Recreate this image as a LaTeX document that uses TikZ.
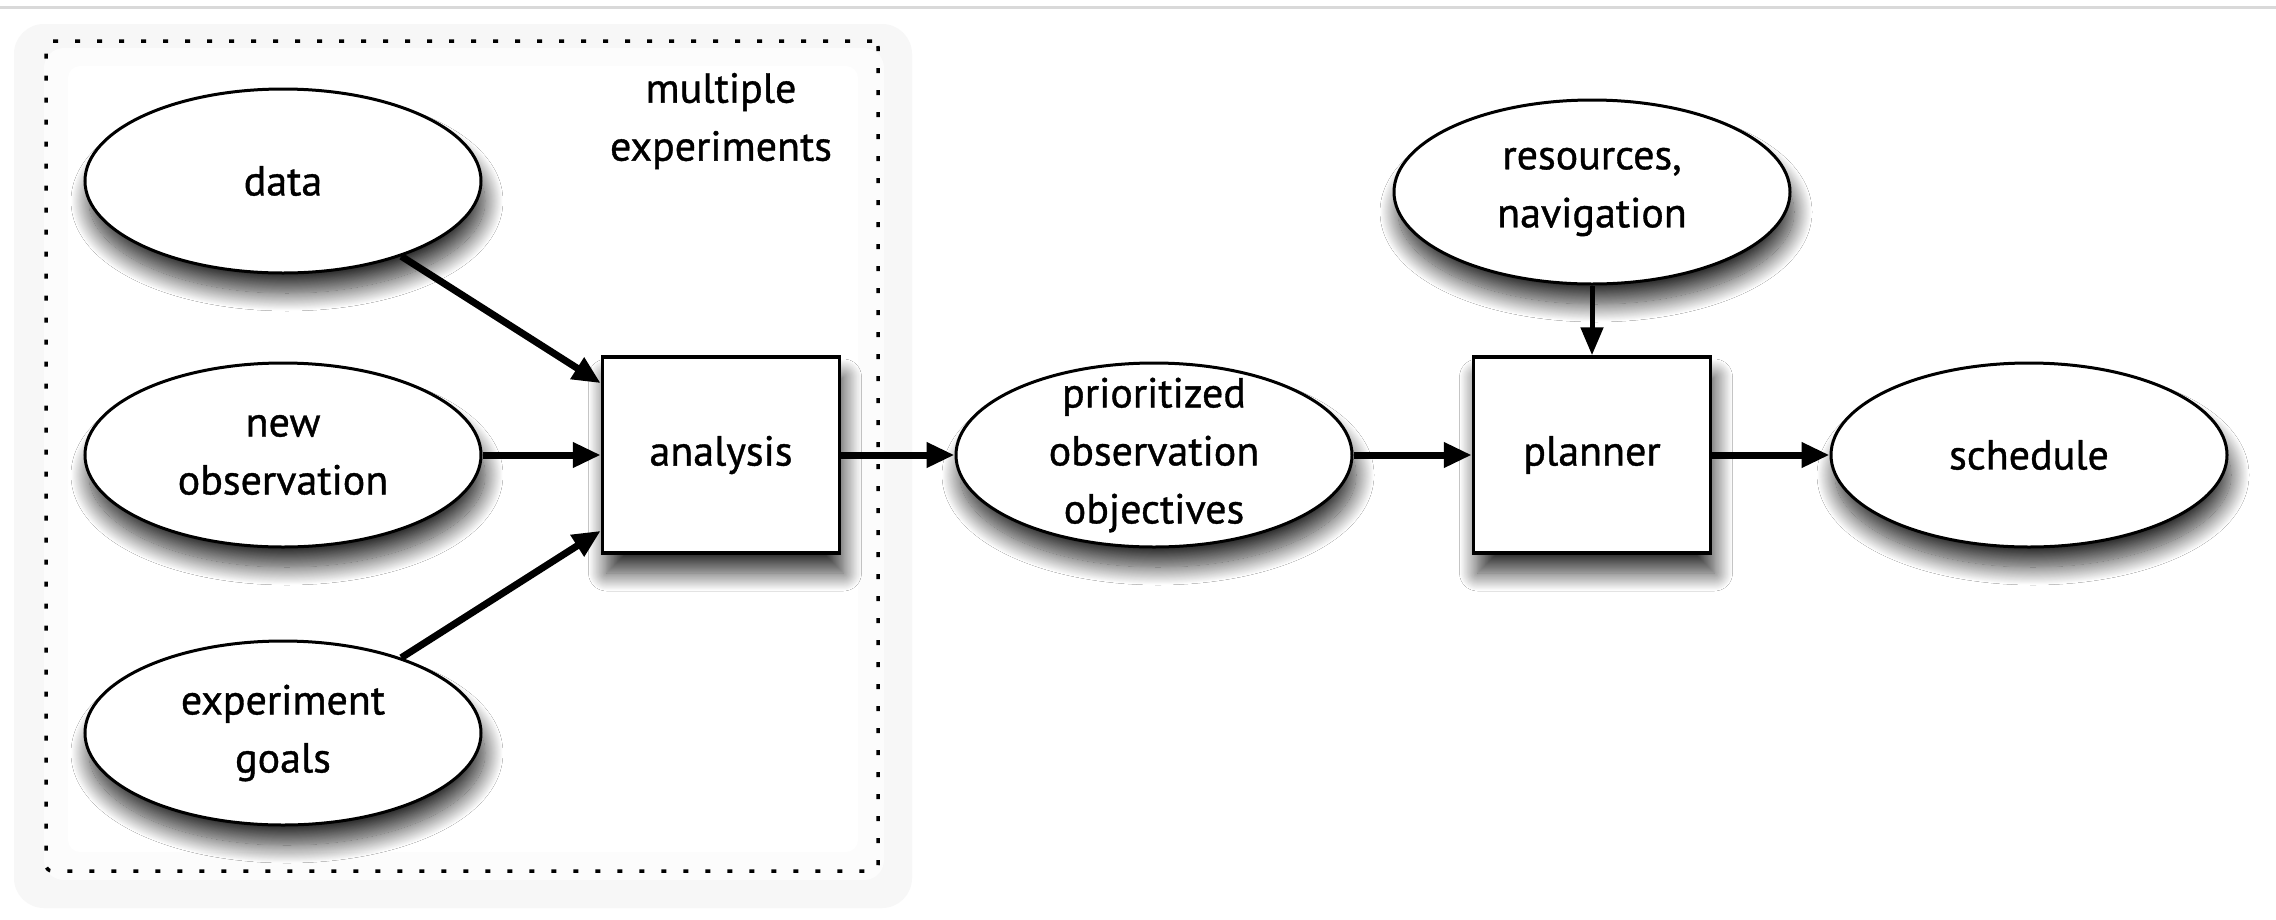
\documentclass[tikz,border=0pt]{standalone}
\usepackage{fontspec}
\setmainfont[FakeBold=0.9]{PT Sans}
\usetikzlibrary{arrows.meta,shapes.geometric,shadows.blur,calc}
\begin{document}
\begin{tikzpicture}[x=1pt,y=-1pt,
  every node/.style={font=\fontsize{42}{58}\selectfont, align=center},
  softshadow/.style={blur shadow={shadow xshift=4pt, shadow yshift=-20pt,
      shadow blur radius=18pt, shadow blur steps=24, shadow opacity=80}},
  oval/.style={ellipse, draw, line width=3pt, fill=white, minimum width=396pt,
      minimum height=184pt, inner sep=0pt, softshadow},
  stepbox/.style={rectangle, draw, line width=3.5pt, fill=white, minimum width=237pt,
      minimum height=196pt, softshadow},
  flow/.style={line width=7pt, -{Triangle[length=28pt,width=24pt]}},
  feed/.style={line width=5pt, -{Triangle[length=28pt,width=22pt]}},
  groupframe/.style={draw, line width=3.5pt, dash pattern=on 5pt off 17pt,
      rounded corners=6pt, minimum width=832pt, minimum height=830pt},
]
\useasboundingbox (0,0) rectangle (2276,919);
\fill[white] (0,0) rectangle (2276,919);
\draw[gray!30, line width=3pt] (0,7) -- (2276,7);

% soft panel behind the experiment group
\fill[black!3, rounded corners=30pt] (14,24) rectangle (912,908);
\fill[white!60!black!3, rounded corners=20pt] (44,48) rectangle (884,880);
\fill[white, rounded corners=12pt] (68,66) rectangle (858,852);

\node[groupframe] (group) at (462,456) {};
\node (multi) at (721,121) {multiple\\experiments};

% inputs
\node[oval, label={center:data}] (data) at (283,181) {};
\node[oval, label={center:new\\observation}] (newobs) at (283,455) {};
\node[oval, label={center:experiment\\goals}] (goals) at (283,733) {};

% processing chain
\node[stepbox] (analysis) at (721,455) {analysis};
\node[oval, label={center:prioritized\\observation\\objectives}] (prio) at (1154,455) {};
\node[stepbox] (planner) at (1592,455) {planner};
\node[oval, label={center:resources,\\navigation}] (res) at (1592,192) {};
\node[oval, label={center:schedule}] (sched) at (2029,455) {};

% connectors
\draw[flow] (data) -- ($(analysis.north west)!0.14!(analysis.south west)$);
\draw[flow] (newobs) -- (analysis);
\draw[flow] (goals) -- ($(analysis.north west)!0.88!(analysis.south west)$);
\draw[flow] (analysis) -- (prio);
\draw[flow] (prio) -- (planner);
\draw[feed] (res) -- (planner);
\draw[flow] (planner) -- (sched);
\end{tikzpicture}
\end{document}
